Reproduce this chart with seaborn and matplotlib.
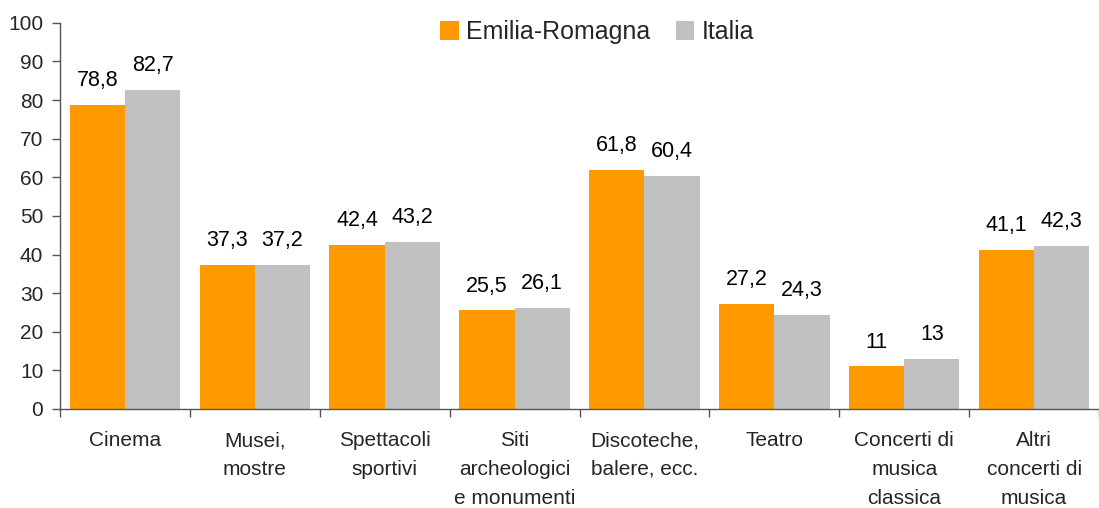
import matplotlib
matplotlib.use("Agg")
import matplotlib.pyplot as plt
import seaborn as sns
import pandas as pd
import numpy as np

categories = ["Cinema", "Musei,\nmostre", "Spettacoli\nsportivi", "Siti\narcheologici\ne monumenti",
              "Discoteche,\nbalere, ecc.", "Teatro", "Concerti di\nmusica\nclassica", "Altri\nconcerti di\nmusica"]
emilia = [78.8, 37.3, 42.4, 25.5, 61.8, 27.2, 11, 41.1]
italia = [82.7, 37.2, 43.2, 26.1, 60.4, 24.3, 13, 42.3]
series = ["Emilia-Romagna", "Italia"]
colors = ["#FF9900", "#C0C0C0"]
yticks = [0, 10, 20, 30, 40, 50, 60, 70, 80, 90, 100]

sns.set_theme(style="white")
plt.rcParams['font.family'] = ['Liberation Sans', 'DejaVu Sans']

df = pd.DataFrame({
    "cat": categories * 2,
    "val": emilia + italia,
    "serie": [series[0]] * len(categories) + [series[1]] * len(categories),
})

fig = plt.figure(figsize=(10.99, 5.08), dpi=100)
ax = fig.add_axes([0.0546, 0.195, 0.9454, 0.76])

sns.barplot(data=df, x="cat", y="val", hue="serie", palette=colors, ax=ax,
            width=0.85, saturation=1, errorbar=None, legend=True, linewidth=0)

def fmt(v):
    s = ("%.1f" % v).replace(".", ",")
    if s.endswith(",0"):
        s = s[:-2]
    return s

for cont in ax.containers:
    for bar in cont:
        h = bar.get_height()
        ax.annotate(fmt(h), (bar.get_x() + bar.get_width() / 2, h),
                    xytext=(0, 10), textcoords="offset points",
                    ha="center", va="bottom", fontsize=15.5, color="black")

ax.set_ylim(0, 100)
ax.set_xlim(-0.5, len(categories) - 0.5)
ax.set_yticks(yticks)
ax.set_yticklabels([str(t) for t in yticks], fontsize=15)
ax.set_xticks(range(len(categories)))
ax.set_xticklabels(categories, fontsize=15, linespacing=1.65, va="top")
ax.set_xticks(np.arange(-0.5, len(categories), 1.0), minor=True)
ax.tick_params(axis="x", which="major", length=0, pad=16)
ax.tick_params(axis="x", which="minor", length=6, width=1, color="#555555", direction="out", bottom=True)
ax.tick_params(axis="y", length=6, width=1, color="#555555", direction="out", left=True, pad=6)
ax.set_xlabel("")
ax.set_ylabel("")
for s in ["top", "right"]:
    ax.spines[s].set_visible(False)
for s in ["left", "bottom"]:
    ax.spines[s].set_color("#555555")
    ax.spines[s].set_linewidth(1)

leg = ax.legend(loc="upper center", bbox_to_anchor=(0.517, 1.065), ncol=2, frameon=False,
                fontsize=18, handlelength=0.75, handleheight=0.75, handletextpad=0.3,
                columnspacing=1.0)

fig.savefig("out.png", dpi=100)
